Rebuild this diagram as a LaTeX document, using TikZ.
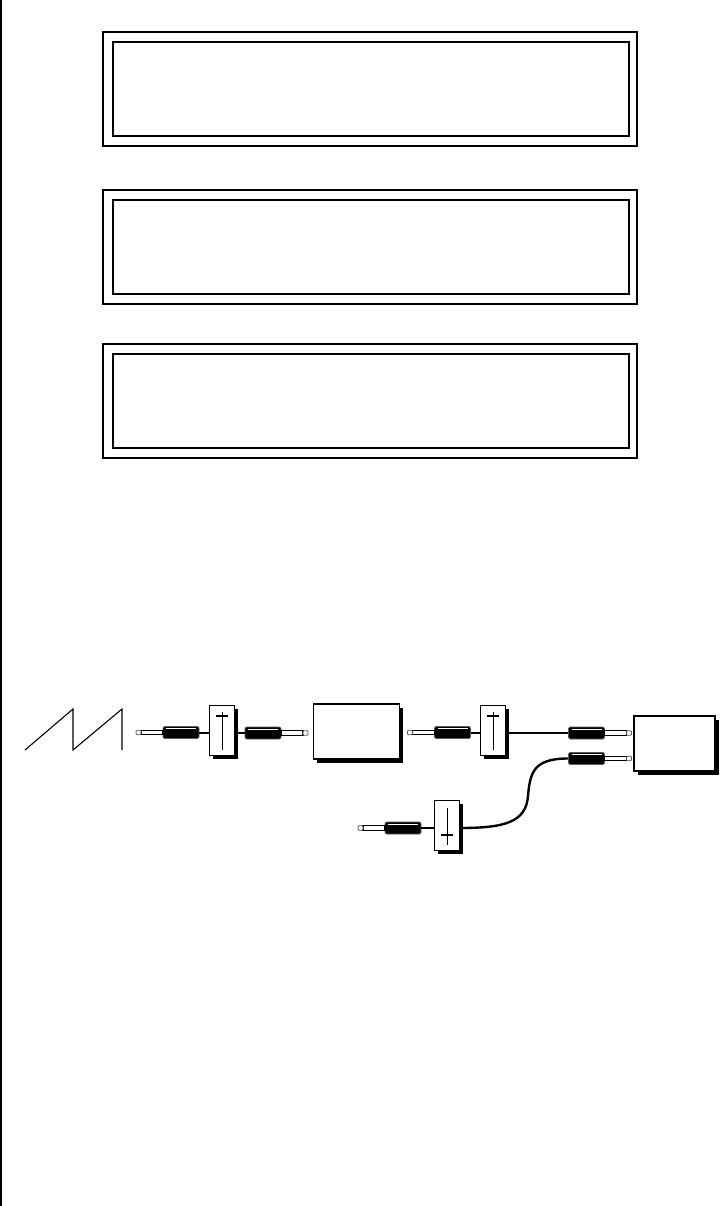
\documentclass[tikz,border=0pt]{standalone}
\usepackage{xcolor}
\usetikzlibrary{positioning,shadows,calc}
\definecolor{myedge}{RGB}{90,90,90}

\begin{document}
\begin{tikzpicture}[
    x=1pt, y=-1pt,
    outerbox/.style={rectangle, draw, line width=2pt, minimum width=534pt, minimum height=114pt, inner sep=0pt},
    innerbox/.style={rectangle, draw, line width=2pt, minimum width=516pt, minimum height=94.5pt, inner sep=0pt},
    module/.style={rectangle, draw, fill=white, line width=1.2pt, inner sep=0pt, drop shadow={shadow xshift=3.5pt, shadow yshift=-3.5pt, fill=black, opacity=1}},
    faderbox/.style={module, line width=1pt, minimum width=25pt, minimum height=50pt},
    barrel/.style={rectangle, draw=myedge, fill=black, line width=0.8pt, rounded corners=1.5pt, minimum width=36pt, minimum height=12pt, inner sep=0pt},
    shaft/.style={rectangle, draw, fill=white, line width=1.3pt, minimum width=22pt, minimum height=4.5pt, inner sep=0pt},
    tip/.style={rectangle, draw=myedge, fill=white, line width=0.8pt, rounded corners=1pt, minimum width=5pt, minimum height=4.5pt, inner sep=0pt},
    wire/.style={line width=2pt},
    thinwire/.style={line width=1pt},
    plug/.pic={
        \node[barrel] (-barrel) at (0,0) {};
        \node[shaft] (-shaft) at (29,0) {};
        \node[tip] (-tip) at (42.5,0) {};
        \draw[white, line width=0.4pt] (-15,-4) -- (15,-4);
    },
]
    \useasboundingbox (0,0) rectangle (720,1206);
    % Page edge
    \coordinate (edgetop) at (1,0);
    \coordinate (edgebot) at (1,1206);
    \draw[line width=2.2pt] (edgetop) -- (edgebot);

    % Displays
    \foreach \name/\ytop in {one/32, two/190, three/344} {
        \node[outerbox] (outer\name) at (370,\ytop+57) {};
        \node[innerbox] (inner\name) at (371,\ytop+57.2) {};
    }

    % Saw wave
    \draw[line width=1.1pt] (25,750) -- (73,709) -- (73,750) -- (122,709) -- (122,750);

    % Faders and modules
    \node[faderbox] (faderone) at (222,730) {};
    \node[faderbox] (fadertwo) at (493,730) {};
    \node[faderbox] (faderthree) at (447,825) {};
    \node[module, minimum width=86pt, minimum height=55pt] (filter) at (356.5,731.5) {};
    \node[module, minimum width=81pt, minimum height=55pt] (amp) at (674.5,743.5) {};

    % Fader marks
    \draw[thinwire] (222,712) -- (222,750);
    \draw[wire] (216,716) -- (228,716);
    \draw[thinwire] (493,712) -- (493,750);
    \draw[wire] (487,716) -- (499,716);
    \draw[thinwire] (447,808) -- (447,845);
    \draw[wire] (441,835) -- (453,835);

    % Plugs
    \pic[xscale=-1] (pa) at (181,732.5) {plug};
    \pic (pb) at (263,733) {plug};
    \pic[xscale=-1] (pc) at (452.5,732.5) {plug};
    \pic (pd) at (586.5,733) {plug};
    \pic (pe) at (586.5,758.5) {plug};
    \pic[xscale=-1] (pf) at (403,828) {plug};

    % Wires
    \draw[wire] (pa-barrel.east) -- (pa-barrel.east -| faderone.west);
    \draw[wire] (pb-barrel.west -| faderone.east) -- (pb-barrel.west);
    \draw[wire] (pc-barrel.east) -- (pc-barrel.east -| fadertwo.west);
    \draw[wire] (pd-barrel.west -| fadertwo.east) -- (pd-barrel.west);
    \draw[wire] (pf-barrel.east) -- (pf-barrel.east -| faderthree.west);
    \draw[line width=2.4pt] (pf-barrel.east -| faderthree.east) .. controls (505,828) and (526,822) .. (528,796)
        .. controls (530,772) and (534,758.5) .. (pe-barrel.west);
\end{tikzpicture}
\end{document}
